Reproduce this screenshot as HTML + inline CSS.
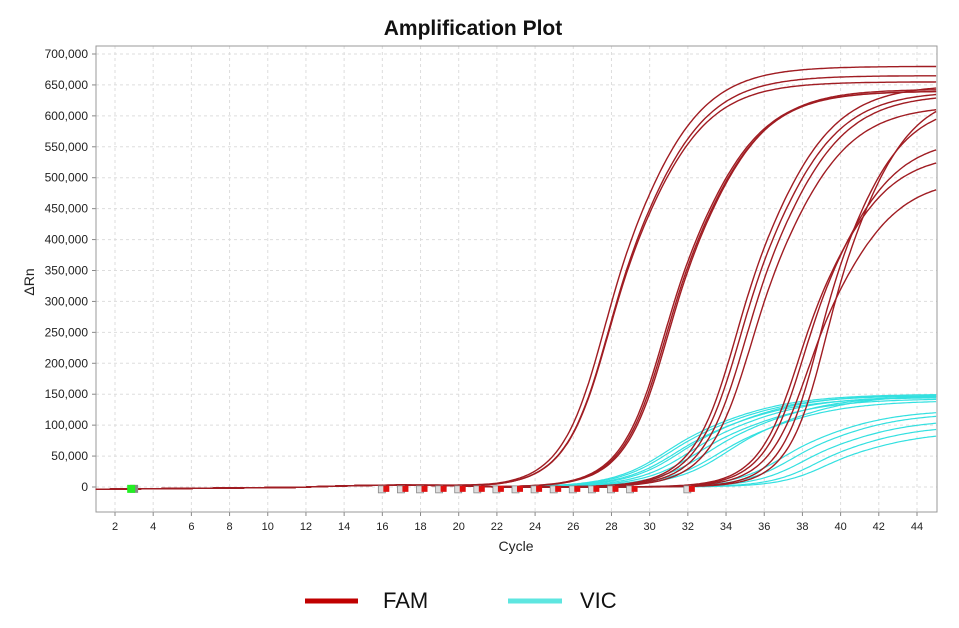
<!DOCTYPE html>
<html><head><meta charset="utf-8"><style>
body{margin:0;background:#fff;width:959px;height:623px;overflow:hidden;font-family:"Liberation Sans",sans-serif}
</style></head><body>
<svg id="s" width="959" height="623" xmlns="http://www.w3.org/2000/svg" font-family="Liberation Sans, sans-serif">
<text x="473" y="35" text-anchor="middle" font-size="21" font-weight="bold" fill="#111">Amplification Plot</text>
<text x="516" y="551" text-anchor="middle" font-size="14" fill="#222">Cycle</text>
<text transform="translate(34,282) rotate(-90)" text-anchor="middle" font-size="14" fill="#222">ΔRn</text>
<g id="grid"></g>
<g id="curves" fill="none"></g>
<g id="marks"></g>
<line x1="305" y1="601" x2="358" y2="601" stroke="#c00000" stroke-width="5"/>
<text x="383" y="608" font-size="22" fill="#111">FAM</text>
<line x1="508" y1="601" x2="562" y2="601" stroke="#5ee6e0" stroke-width="5"/>
<text x="580" y="608" font-size="22" fill="#111">VIC</text>
</svg>
<script>
const NS="http://www.w3.org/2000/svg";
function X(c){return 115+(c-2)*19.095}
function Y(v){return 487-v*433/700000}
function el(p,t,a){const e=document.createElementNS(NS,t);for(const k in a)e.setAttribute(k,a[k]);p.appendChild(e);return e}
const g=document.getElementById('grid');
for(let v=0;v<=700000;v+=50000){const y=Y(v);
 el(g,'line',{x1:96,x2:937,y1:y,y2:y,stroke:'#ddd','stroke-dasharray':'3,3'});
 el(g,'line',{x1:92,x2:96,y1:y,y2:y,stroke:'#888'});
 const t=el(g,'text',{x:88,y:y+4,'text-anchor':'end','font-size':12,fill:'#222'});t.textContent=v.toLocaleString('en-US');}
for(let c=2;c<=44;c+=2){const x=X(c);
 el(g,'line',{x1:x,x2:x,y1:46,y2:512,stroke:'#ddd','stroke-dasharray':'3,3'});
 el(g,'line',{x1:x,x2:x,y1:512,y2:516,stroke:'#888'});
 const t=el(g,'text',{x:x,y:530,'text-anchor':'middle','font-size':11,fill:'#222'});t.textContent=c;}
el(g,'rect',{x:96,y:46,width:841,height:466,fill:'none',stroke:'#999'});
const cv=document.getElementById('curves');
function curve(P,m,s,col,w){let d='';for(let c=1;c<=45.05;c+=0.1){
 const ss=s*(1.05+0.2*Math.tanh((c-m)/s));
 let v=P/(1+Math.exp(-(c-m)/ss));
 v+= (c<12? -4000+c*300:(c<22?3000*Math.sin((c-12)/10*Math.PI):0));
 d+=(d?'L':'M')+X(c).toFixed(1)+','+Y(v).toFixed(1);}
 el(cv,'path',{d:d,stroke:col,'stroke-width':w||1.3});}
const V='#33e0e0';
[[150000,31.8,2.0],[148000,32.0,2.0],[145000,32.3,2.0],[150000,32.6,2.0],[147000,33.0,2.0],[143000,33.4,2.0],[148000,34.0,2.0],[140000,34.5,2.0],[150000,35.0,2.0],
 [125000,37.8,1.8],[120000,38.3,1.8],[110000,38.9,1.8],[100000,39.5,1.7],[90000,40.0,1.7]].forEach(a=>curve(a[0],a[1],a[2],V,1.2));
const R='#a01c22';
[[680000,28.4,1.6],[665000,28.6,1.6],[655000,28.6,1.6],
 [640000,31.5,1.6],[640000,31.6,1.6],[643000,31.7,1.6],
 [650000,35.3,1.6],[640000,35.5,1.6],[635000,35.8,1.6],[617000,36.1,1.6],
 [540000,38.5,1.5],[565000,38.8,1.5],[620000,39.5,1.4],[500000,39.0,1.5],[640000,39.9,1.4]].forEach(a=>curve(a[0],a[1],a[2],R,1.4));
const mk=document.getElementById('marks');
el(mk,'rect',{x:X(3)-4,y:Y(-3000)-4,width:8,height:8,fill:'#888'});
el(mk,'rect',{x:X(2.9)-5,y:Y(-3000)-4,width:8,height:8,fill:'#22ee22'});
for(let c=16;c<=32;c++){if(c==30||c==31)continue;
 el(mk,'rect',{x:X(c)-4,y:Y(-3000)-3,width:7,height:7,fill:'#ddd',stroke:'#888','stroke-width':0.8});
 el(mk,'rect',{x:X(c)+1,y:Y(-3000)-3,width:6,height:6,fill:'#e01010'});}
</script>
</body></html>
